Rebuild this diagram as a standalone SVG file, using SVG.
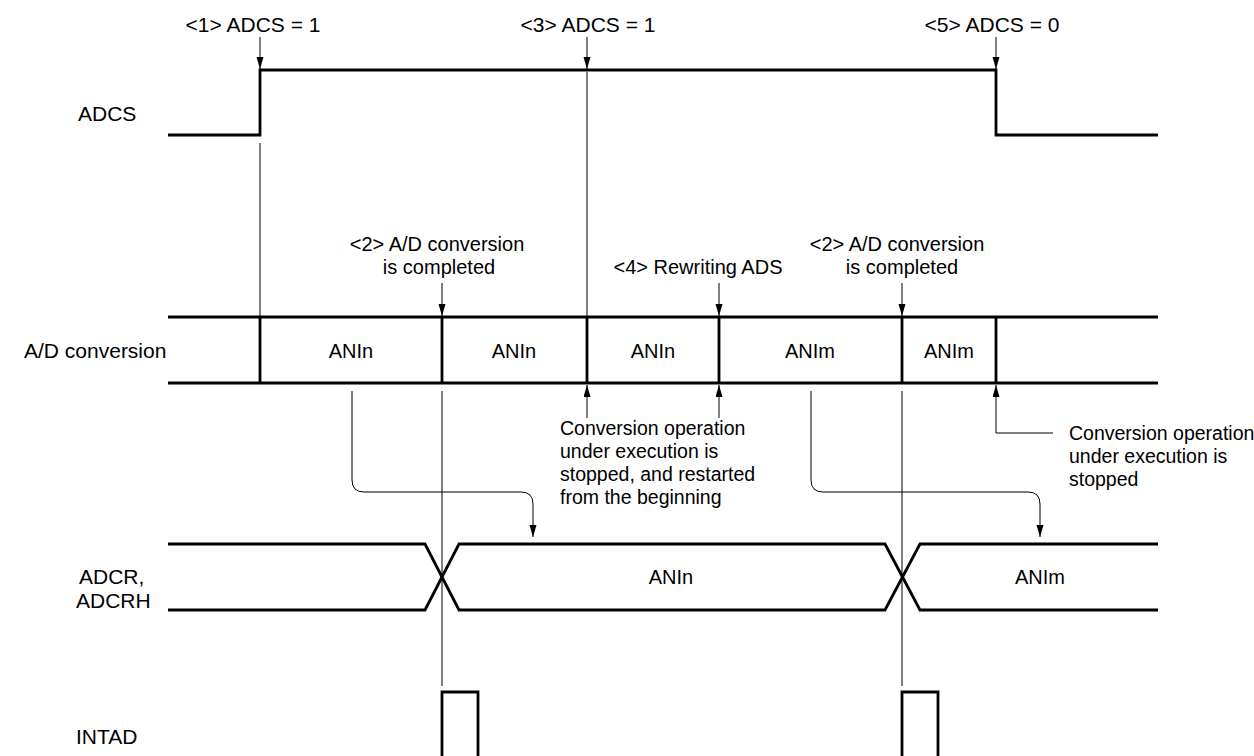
<svg xmlns="http://www.w3.org/2000/svg" width="1254" height="756" viewBox="0 0 1254 756">
<defs>
<style>
text{font-family:"Liberation Sans",Arial,sans-serif;fill:#000}
.lbl{font-size:20px}
.big{font-size:21px}
.mid{text-anchor:middle}
.par{font-size:19.5px}
.sig{fill:none;stroke:#000;stroke-width:2.8;stroke-linejoin:miter}
.thin{fill:none;stroke:#000;stroke-width:1}
.arr{fill:none;stroke:#000;stroke-width:1;marker-end:url(#ah)}
</style>
<marker id="ah" markerUnits="userSpaceOnUse" markerWidth="14" markerHeight="8" refX="12" refY="3.5" orient="auto">
<path d="M0,0 L12,3.5 L0,7 z" fill="#000"/>
</marker>
</defs>
<rect width="1254" height="756" fill="#fff"/>

<g id="labels-left">
<text class="big" x="78" y="121">ADCS</text>
<text class="big" x="24" y="358">A/D conversion</text>
<text class="big" x="79" y="584">ADCR,</text>
<text class="big" x="76" y="608">ADCRH</text>
<text class="big" x="76" y="744">INTAD</text>
</g>

<g id="adcs-signal">
<path class="sig" d="M168,135 H260 V70 H996 V135 H1158"/>
</g>

<g id="ad-conversion">
<path class="sig" d="M168,317 H1158 M168,383 H1158 M260,317 V383 M442,317 V383 M587,317 V383 M719,317 V383 M902,317 V383 M996,317 V383"/>
<text class="lbl mid" x="351" y="358">ANIn</text>
<text class="lbl mid" x="514" y="358">ANIn</text>
<text class="lbl mid" x="653" y="358">ANIn</text>
<text class="lbl mid" x="810" y="358">ANIm</text>
<text class="lbl mid" x="949" y="358">ANIm</text>
</g>

<g id="adcr-signal">
<path class="sig" d="M168,544 H425 L459,610 H885 L920,544 H1158"/>
<path class="sig" d="M168,610 H425 L459,544 H885 L920,610 H1158"/>
<text class="lbl mid" x="671" y="584">ANIn</text>
<text class="lbl mid" x="1040" y="584">ANIm</text>
</g>

<g id="intad-signal">
<path class="sig" d="M442,758 V692 H478 V758"/>
<path class="sig" d="M902,758 V692 H938 V758"/>
</g>

<g id="event1">
<text class="big mid" x="253" y="32">&lt;1&gt; ADCS = 1</text>
</g>
<g id="event3">
<text class="big mid" x="588" y="32">&lt;3&gt; ADCS = 1</text>
</g>
<g id="event5">
<text class="big mid" x="992" y="32">&lt;5&gt; ADCS = 0</text>
</g>
<g id="event2a">
<text class="lbl mid" x="437" y="251">&lt;2&gt; A/D conversion</text>
<text class="lbl mid" x="439" y="274">is completed</text>
</g>
<g id="event4">
<text class="lbl mid" x="698" y="274">&lt;4&gt; Rewriting ADS</text>
</g>
<g id="event2b">
<text class="lbl mid" x="897" y="251">&lt;2&gt; A/D conversion</text>
<text class="lbl mid" x="902" y="274">is completed</text>
</g>
<g id="note-restart">
<text class="par" x="560" y="435">Conversion operation</text>
<text class="par" x="560" y="458">under execution is</text>
<text class="par" x="560" y="481">stopped, and restarted</text>
<text class="par" x="560" y="504">from the beginning</text>
</g>
<g id="note-stop">
<text class="par" x="1069" y="440">Conversion operation</text>
<text class="par" x="1069" y="463">under execution is</text>
<text class="par" x="1069" y="486">stopped</text>
</g>

<g id="connectors">
<line class="arr" x1="260" y1="37" x2="260" y2="69"/>
<line class="arr" x1="587" y1="37" x2="587" y2="69"/>
<line class="arr" x1="996" y1="37" x2="996" y2="69"/>
<line class="thin" x1="260" y1="143" x2="260" y2="316"/>
<line class="thin" x1="587" y1="72" x2="587" y2="316"/>
<line class="arr" x1="442" y1="283" x2="442" y2="316"/>
<line class="arr" x1="719" y1="283" x2="719" y2="316"/>
<line class="arr" x1="902" y1="283" x2="902" y2="316"/>
<line class="arr" x1="587" y1="418" x2="587" y2="385"/>
<line class="arr" x1="719" y1="418" x2="719" y2="385"/>
<path class="arr" d="M1053,433 H996 V385"/>
<line class="thin" x1="442" y1="391" x2="442" y2="686"/>
<line class="thin" x1="902" y1="391" x2="902" y2="686"/>
<path class="arr" d="M352,391 V480 Q352,492 364,492 H521 Q533,492 533,504 V537"/>
<path class="arr" d="M811,391 V480 Q811,492 823,492 H1028 Q1040,492 1040,504 V537"/>
</g>
</svg>
